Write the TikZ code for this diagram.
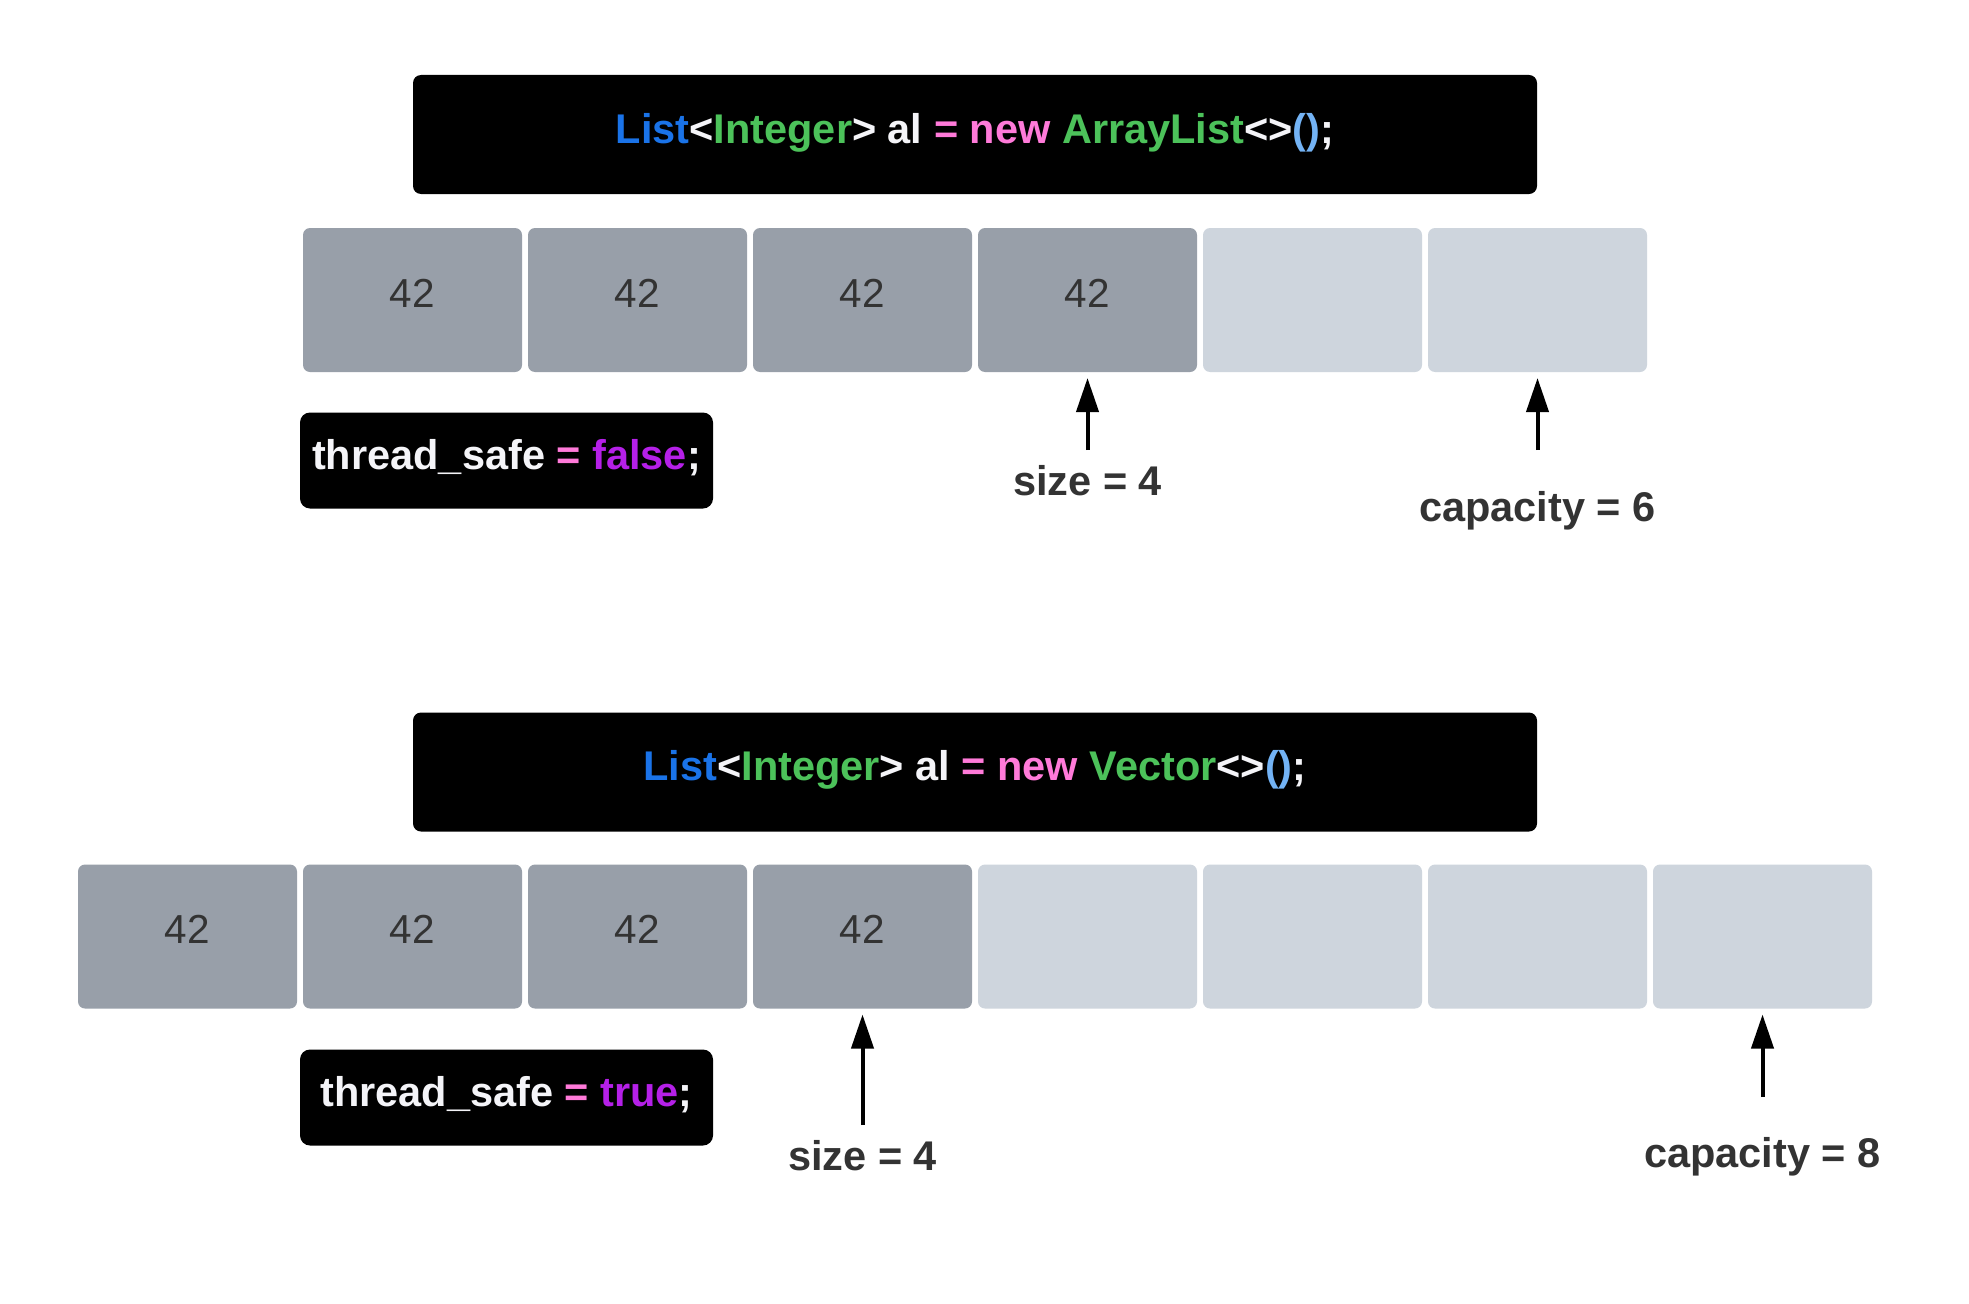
\documentclass[tikz,border=0pt]{standalone}
\usepackage{fontspec}
\setmainfont{Liberation Sans}
\usepackage{tikz}
\usetikzlibrary{arrows.meta,positioning}
\definecolor{cellfull}{HTML}{989FA9}
\definecolor{cellfree}{HTML}{CED5DD}
\definecolor{numtext}{HTML}{333333}
\definecolor{kwblue}{HTML}{1A73E8}
\definecolor{kwgreen}{HTML}{4CC25A}
\definecolor{kwpink}{HTML}{FF7AD9}
\definecolor{kwparen}{HTML}{73B3F5}
\definecolor{kwpurple}{HTML}{B520E8}
\definecolor{kwwhite}{HTML}{F4F4F8}
\tikzstyle{code} = [rectangle, fill=black, rounded corners=8pt, text=kwwhite, inner sep=0pt,
    minimum width=1124pt, minimum height=119pt, text depth=13pt, font=\fontsize{41.5pt}{50pt}\selectfont\bfseries]
\tikzstyle{flag} = [rectangle, fill=black, rounded corners=10pt, text=kwwhite, inner sep=0pt,
    minimum width=413pt, minimum height=96pt, text depth=12pt, font=\fontsize{41.5pt}{50pt}\selectfont\bfseries]
\tikzstyle{cell} = [rectangle, rounded corners=7pt, minimum width=219pt, minimum height=144pt,
    inner sep=0pt, outer sep=0pt, text=numtext, text depth=14pt, font=\fontsize{40.5pt}{48pt}\selectfont]
\tikzstyle{lbl} = [anchor=base, inner sep=0pt, text=numtext, font=\fontsize{41.5pt}{50pt}\selectfont\bfseries]
\tikzstyle{ptr} = [-{Triangle[length=34pt,width=22pt]}, line width=4pt, shorten >=6pt]

\begin{document}
\begin{tikzpicture}[x=1pt,y=-1pt]
\fill[white] (0,0) rectangle (1969,1303);

\node[code] (decl1) at (975,134.5) {\textcolor{kwblue}{List}<\textcolor{kwgreen}{Integer}> al \textcolor{kwpink}{= new} \textcolor{kwgreen}{ArrayList}<>\textcolor{kwparen}{()};};
\node[cell, fill=cellfull] (a1) at (412.5,300) {42};
\node[cell, fill=cellfull, right=6pt of a1] (a2) {42};
\node[cell, fill=cellfull, right=6pt of a2] (a3) {42};
\node[cell, fill=cellfull, right=6pt of a3] (a4) {42};
\node[cell, fill=cellfree, right=6pt of a4] (a5) {};
\node[cell, fill=cellfree, right=6pt of a5] (a6) {};
\node[flag] (safe1) at (506.5,460.5) {thread\_safe \textcolor{kwpink}{=} \textcolor{kwpurple}{false};};
\coordinate (sizetail1) at (1087.5,450);
\coordinate (captail1) at (1537.5,450);
\node[lbl] (size1) at (1087.5,495) {size = 4};
\node[lbl] (cap1) at (1537.5,521) {capacity = 6};
\draw[ptr] (sizetail1) -- (a4);
\draw[ptr] (captail1) -- (a6);

\node[code] (decl2) at (975,772) {\textcolor{kwblue}{List}<\textcolor{kwgreen}{Integer}> al \textcolor{kwpink}{= new} \textcolor{kwgreen}{Vector}<>\textcolor{kwparen}{()};};
\node[cell, fill=cellfull] (b1) at (187.5,936.5) {42};
\node[cell, fill=cellfull, right=6pt of b1] (b2) {42};
\node[cell, fill=cellfull, right=6pt of b2] (b3) {42};
\node[cell, fill=cellfull, right=6pt of b3] (b4) {42};
\node[cell, fill=cellfree, right=6pt of b4] (b5) {};
\node[cell, fill=cellfree, right=6pt of b5] (b6) {};
\node[cell, fill=cellfree, right=6pt of b6] (b7) {};
\node[cell, fill=cellfree, right=6pt of b7] (b8) {};
\node[flag] (safe2) at (506.5,1097.5) {thread\_safe \textcolor{kwpink}{=} \textcolor{kwpurple}{true};};
\coordinate (sizetail2) at (862.5,1125);
\coordinate (captail2) at (1762.5,1097);
\node[lbl] (size2) at (862.5,1170) {size = 4};
\node[lbl] (cap2) at (1762.5,1167) {capacity = 8};
\draw[ptr] (sizetail2) -- (b4);
\draw[ptr] (captail2) -- (b8);
\end{tikzpicture}
\end{document}
